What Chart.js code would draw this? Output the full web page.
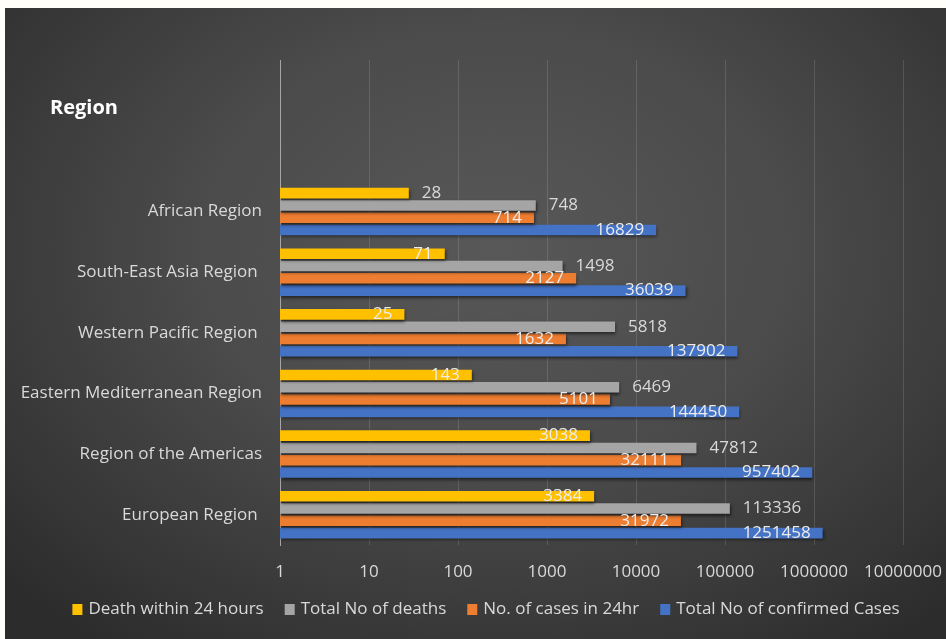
<!DOCTYPE html>
<html>
<head>
<meta charset="utf-8">
<script src="https://cdn.jsdelivr.net/npm/chart.js@4.4.1/dist/chart.umd.min.js"></script>
<style>
  html, body { margin: 0; padding: 0; background: #fffef8; }
  #wrap {
    position: absolute; left: 5px; top: 8px; width: 941px; height: 631px;
    background: radial-gradient(ellipse 70% 78% at 52% 38%, #585858 0%, #4b4b4b 45%, #353535 85%, #2c2c2c 100%);
  }
</style>
</head>
<body>
<div id="wrap"><canvas id="regionChart"></canvas></div>
<script>
// Regions, top to bottom (trailing spaces as in the source sheet)
const regions = ['African Region', 'South-East Asia Region ', 'Western Pacific Region ',
    'Eastern Mediterranean Region', 'Region of the Americas', 'European Region '];
const deathsIn24h = [28, 71, 25, 143, 3038, 3384];
const totalDeaths = [748, 1498, 5818, 6469, 47812, 113336];
const casesIn24h = [714, 2127, 1632, 5101, 32111, 31972];
const totalConfirmed = [16829, 36039, 137902, 144450, 957402, 1251458];
const tickValues = [1, 10, 100, 1000, 10000, 100000, 1000000, 10000000];

const FONT = '"Open Sans", "Noto Sans", sans-serif';
const TEXT = '#d9d9d9';

// two empty rows above the regions, like the sheet
const pad = arr => [null, null].concat(arr);

const barShadow = {
    id: 'barShadow',
    beforeDatasetsDraw(chart) {
        const c = chart.ctx;
        c.save();
        c.shadowColor = 'rgba(0,0,0,0.55)';
        c.shadowBlur = 3;
        c.shadowOffsetX = 1;
        c.shadowOffsetY = 2;
    },
    afterDatasetsDraw(chart) {
        chart.ctx.restore();
    }
};

const valueLabels = {
    id: 'valueLabels',
    afterDatasetsDraw(chart) {
        const ctx = chart.ctx;
        ctx.save();
        ctx.font = '17px ' + FONT;
        ctx.textBaseline = 'middle';
        chart.data.datasets.forEach((ds, i) => {
            const meta = chart.getDatasetMeta(i);
            meta.data.forEach((bar, j) => {
                const v = ds.data[j];
                if (v == null) return;
                const outside = ds.labelOutside || (ds.outsideAt || []).includes(j);
                if (outside) {
                    ctx.textAlign = 'left';
                    ctx.fillStyle = TEXT;
                    ctx.fillText(String(v), bar.x + 13, bar.y);
                } else {
                    ctx.textAlign = 'right';
                    ctx.fillStyle = '#ececec';
                    ctx.fillText(String(v), bar.x - 12, bar.y);
                }
            });
        });
        ctx.restore();
    }
};

// title on the left and the legend row under the axis
const extras = {
    id: 'extras',
    afterDraw(chart) {
        const ctx = chart.ctx;
        ctx.save();
        ctx.font = 'bold 20px ' + FONT;
        ctx.fillStyle = '#ffffff';
        ctx.textAlign = 'left';
        ctx.textBaseline = 'middle';
        ctx.fillText('Region', 45, 100);

        ctx.font = '17px ' + FONT;
        const items = chart.data.datasets.map(ds => ({
            text: ds.label, color: ds.backgroundColor, w: ctx.measureText(ds.label).width
        }));
        const box = 10, gap = 6, spacing = 21;
        const total = items.reduce((s, it) => s + box + gap + it.w, 0) + spacing * (items.length - 1);
        let x = 481 - total / 2;
        const y = 601;
        items.forEach(it => {
            ctx.fillStyle = it.color;
            ctx.fillRect(x, y - 5, box, box + 1);
            x += box + gap;
            ctx.fillStyle = TEXT;
            ctx.fillText(it.text, x, y);
            x += it.w + spacing;
        });
        ctx.restore();
    }
};

const ctx = document.getElementById('regionChart').getContext('2d');
new Chart(ctx, {
    type: 'bar',
    data: {
        labels: ['', ''].concat(regions),
        datasets: [
            { label: 'Death within 24 hours', data: pad(deathsIn24h), backgroundColor: '#ffc000', outsideAt: [2] },
            { label: 'Total No of deaths', data: pad(totalDeaths), backgroundColor: '#a5a5a5', labelOutside: true },
            { label: 'No. of cases in 24hr', data: pad(casesIn24h), backgroundColor: '#ed7d31' },
            { label: 'Total No of confirmed Cases', data: pad(totalConfirmed), backgroundColor: '#4472c4' }
        ]
    },
    options: {
        indexAxis: 'y',
        responsive: true,
        maintainAspectRatio: false,
        animation: false,
        categoryPercentage: 0.81,
        barPercentage: 0.86,
        borderWidth: 0,
        layout: { padding: { top: 52, right: 43, bottom: 54, left: 0 } },
        scales: {
            x: {
                type: 'logarithmic',
                min: 1,
                max: 10000000,
                afterBuildTicks: scale => {
                    scale.ticks = tickValues.map(v => ({ value: v }));
                },
                afterFit: scale => {
                    scale.height = 40;
                    scale.paddingLeft = 0;
                    scale.paddingRight = 0;
                },
                ticks: {
                    color: TEXT,
                    font: { family: FONT, size: 17 },
                    padding: 17,
                    autoSkip: false,
                    maxRotation: 0,
                    callback: v => String(v)
                },
                grid: { color: 'rgba(255,255,255,0.13)', drawTicks: false },
                border: { display: false }
            },
            y: {
                afterFit: scale => { scale.width = 275; },
                ticks: {
                    color: TEXT,
                    font: { family: FONT, size: 17 },
                    padding: 18,
                    autoSkip: false
                },
                grid: { display: false, drawTicks: false },
                border: { display: true, color: '#a6a6a6', width: 1 }
            }
        },
        plugins: {
            legend: { display: false },
            tooltip: { enabled: false }
        }
    },
    plugins: [barShadow, valueLabels, extras]
});
</script>
</body>
</html>
